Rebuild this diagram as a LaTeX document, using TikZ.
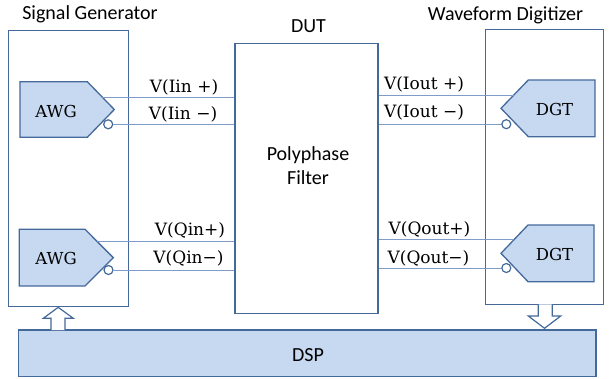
\documentclass[tikz,border=0pt]{standalone}
\usepackage{fontspec}
\setmainfont{Carlito}
\newfontfamily\serifm{DejaVu Serif}
\definecolor{boxline}{HTML}{45699A}
\definecolor{boxfill}{HTML}{C6D9F1}
\definecolor{wirecol}{HTML}{7E9CC8}
\begin{document}
\begin{tikzpicture}[x=1pt,y=-1pt,
  frame/.style={draw=boxline,line width=1.3pt,fill=white,rectangle,inner sep=0pt},
  blk/.style={draw=boxline,line width=1.3pt,fill=boxfill},
  title/.style={font=\fontsize{20}{24}\selectfont,anchor=base,inner sep=0pt},
  lbl/.style={font=\serifm\fontsize{17}{20}\selectfont,anchor=base,inner sep=0pt},
  unit/.style={font=\serifm\fontsize{16.5}{20}\selectfont,anchor=base,inner sep=0pt},
  wire/.style={draw=wirecol,line width=0.9pt},
  bubble/.style={draw=boxline,line width=1.2pt,fill=white}]
\useasboundingbox (0,0) rectangle (609,378);

% frames
\node[frame,minimum width=120pt,minimum height=276pt] (sg) at (68.5,168.7) {};
\node[frame,minimum width=143pt,minimum height=270pt] (dut) at (306.5,178.3) {};
\node[frame,minimum width=118pt,minimum height=275pt] (wd) at (544.5,166.8) {};
\node[blk,rectangle,inner sep=0pt,minimum width=577.7pt,minimum height=46.7pt] (dsp) at (307.2,353.3) {};

% titles
\node[title] (tsg) at (90,19) {Signal Generator};
\node[title] (tdut) at (308.5,32) {DUT};
\node[title] (twd) at (505.5,20) {Waveform Digitizer};
\node[title] (tpf1) at (308,160) {Polyphase};
\node[title] (tpf2) at (308,184) {Filter};
\node[title] (tdsp) at (308,361) {DSP};

% AWG shapes
\draw[blk] (20,81.7) -- (87.3,81.7) -- (114.3,109.5) -- (87.3,137.3) -- (20,137.3) -- cycle;
\draw[blk] (19.3,229.3) -- (85,229.3) -- (113.3,257.7) -- (85,286) -- (19.3,286) -- cycle;
% DGT shapes
\draw[blk] (595,80) -- (528.3,80) -- (501,108.3) -- (528.3,136.7) -- (595,136.7) -- cycle;
\draw[blk] (594,225) -- (528,225) -- (501,253.3) -- (528,281.7) -- (594,281.7) -- cycle;

\node[unit] (awg1) at (56,117) {AWG};
\node[unit] (awg2) at (56,264) {AWG};
\node[unit] (dgt1) at (554.5,115) {DGT};
\node[unit] (dgt2) at (554.5,260) {DGT};

% bubbles
\node[bubble,circle,minimum size=9pt,inner sep=0pt] (b1) at (108.2,124.3) {};
\node[bubble,circle,minimum size=9pt,inner sep=0pt] (b2) at (108.5,270) {};
\node[bubble,circle,minimum size=9pt,inner sep=0pt] (b3) at (506.3,124.2) {};
\node[bubble,circle,minimum size=9pt,inner sep=0pt] (b4) at (506.3,268) {};

% wire start points on the shape edges
\coordinate (p1) at (102.3,97.3);
\coordinate (p2) at (96.7,241);
\coordinate (p3) at (513.8,95);
\coordinate (p4) at (514.4,239.3);

\draw[wire] (p1) -- (p1 -| dut.west);
\draw[wire] (b1.east) -- (b1.east -| dut.west);
\draw[wire] (p2) -- (p2 -| dut.west);
\draw[wire] (b2.east) -- (b2.east -| dut.west);
\draw[wire] (p3 -| dut.east) -- (p3);
\draw[wire] (b3.west -| dut.east) -- (b3.west);
\draw[wire] (p4 -| dut.east) -- (p4);
\draw[wire] (b4.west -| dut.east) -- (b4.west);

% labels
\node[lbl] (l1) at (184,92) {V(Iin +)};
\node[lbl] (l2) at (183,119.5) {V(Iin −)};
\node[lbl] (l3) at (190,235) {V(Qin+)};
\node[lbl] (l4) at (188.5,263) {V(Qin−)};
\node[lbl] (l5) at (424,89) {V(Iout +)};
\node[lbl] (l6) at (424,117) {V(Iout −)};
\node[lbl] (l7) at (429.5,234) {V(Qout+)};
\node[lbl] (l8) at (428.5,263) {V(Qout−)};

% block arrows
\draw[draw=boxline,line width=1.2pt,fill=white]
  (51,330) -- (51,318.3) -- (43.3,318.3) -- (58.2,307.3) -- (73.3,318.3) -- (65,318.3) -- (65,330);
\draw[draw=boxline,line width=1.2pt,fill=white]
  (538.3,304.3) -- (538.3,316) -- (528.3,316) -- (544.5,328.3) -- (560.7,316) -- (552.3,316) -- (552.3,304.3);
\end{tikzpicture}
\end{document}
